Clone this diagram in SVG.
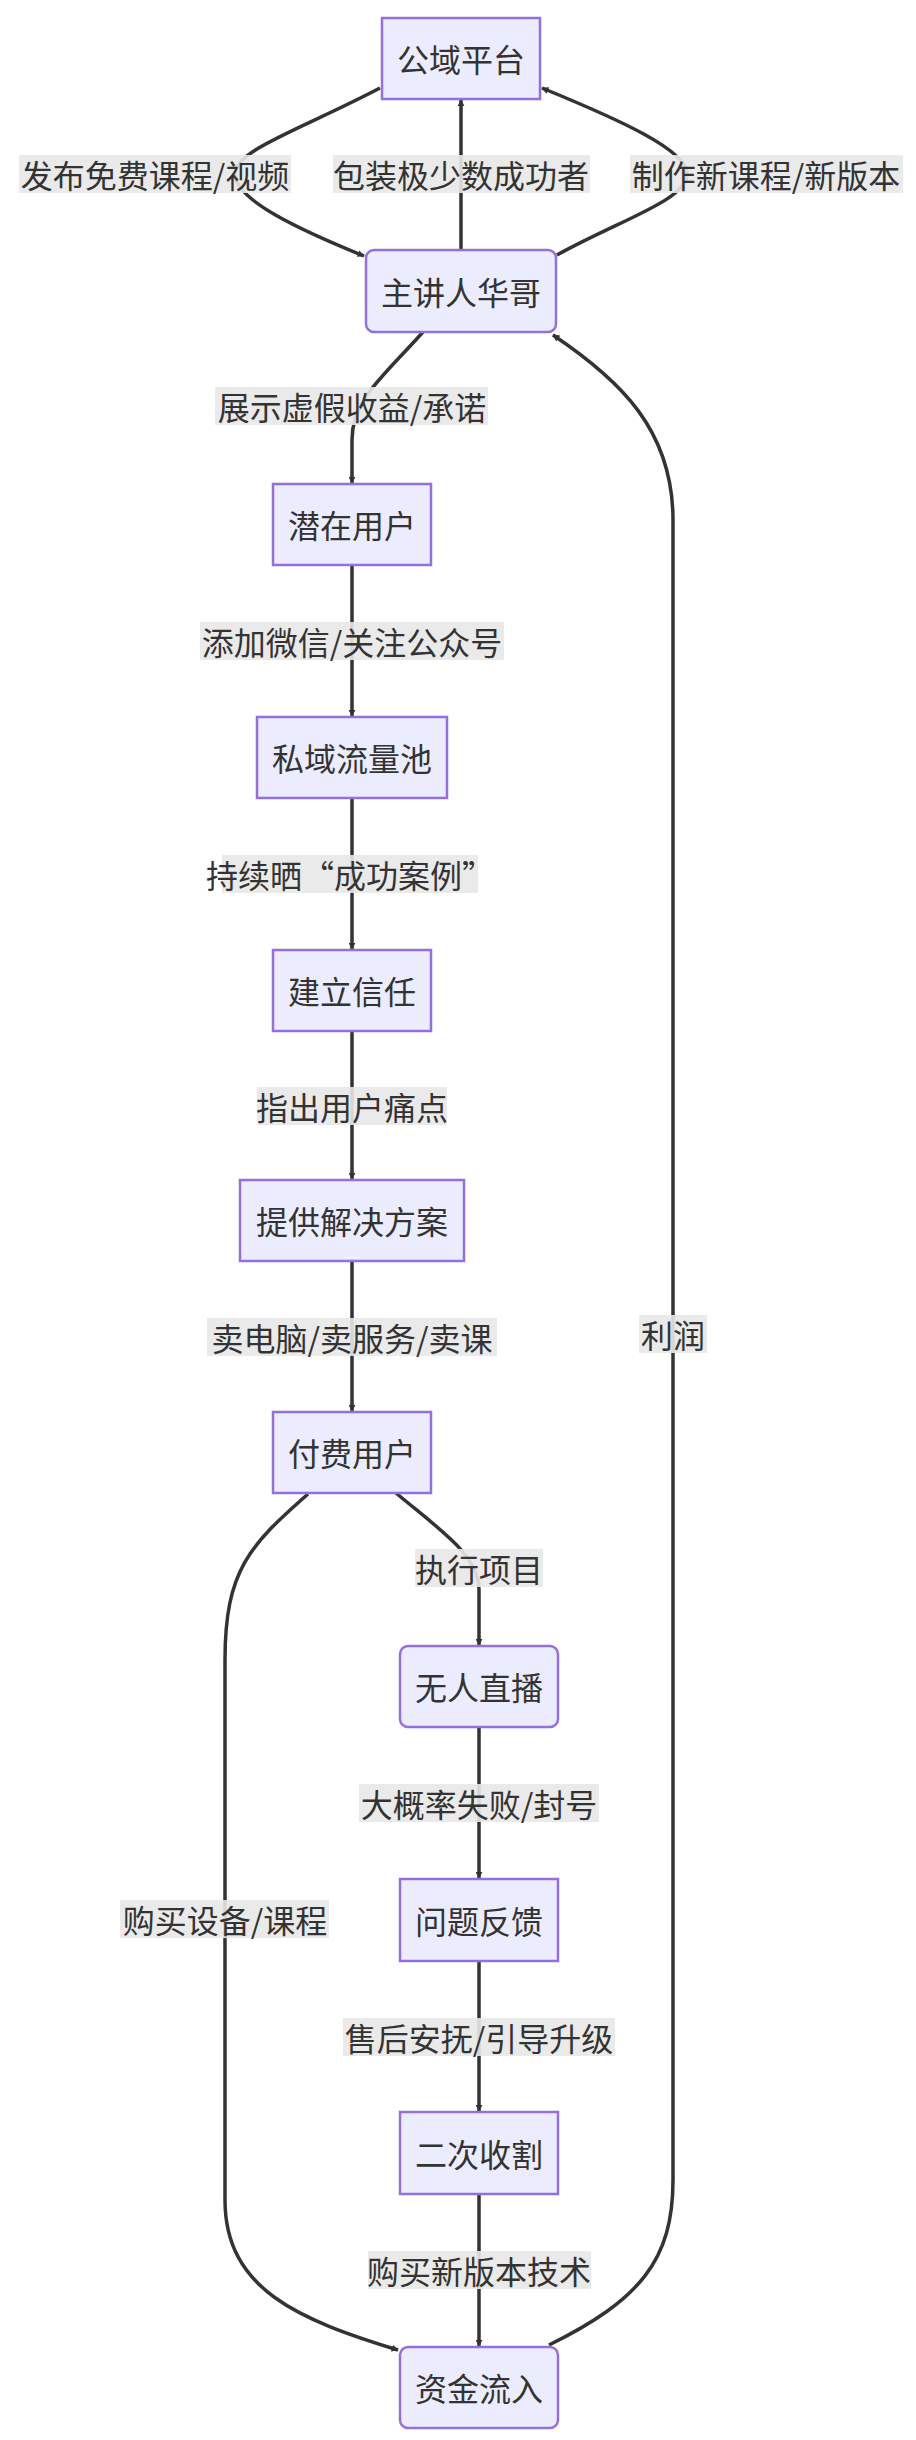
<svg xmlns="http://www.w3.org/2000/svg" width="916" height="2440" viewBox="0 0 916 2440">
<style>
.n rect{fill:#ECECFF;stroke:#9370DB;stroke-width:2.5}
text{font-family:"Noto Sans CJK SC","Noto Sans",sans-serif;font-size:32px;fill:#333;text-anchor:middle;dominant-baseline:central}
.e path{fill:none;stroke:#333;stroke-width:3.5}
.l rect{fill:#e8e8e8;opacity:0.9}
</style>
<defs><marker id="a" viewBox="0 0 10 10" refX="9" refY="5" markerWidth="7" markerHeight="7" markerUnits="userSpaceOnUse" orient="auto"><path d="M0,0 L10,5 L0,10 z" fill="#333"/></marker></defs>
<rect width="916" height="2440" fill="#fff"/>
<g class="e" marker-end="url(#a)">
<path d="M380,88 C300,130 235,150 235,174 C235,200 300,230 364,256" marker-end="url(#a)"/>
<path d="M461,250 L461,100" marker-end="url(#a)"/>
<path d="M557,255 C620,220 687,200 687,174 C687,150 620,120 542,88" marker-end="url(#a)"/>
<path d="M423,332 C380,380 352,400 352,440 L352,483" marker-end="url(#a)"/>
<path d="M352,565 L352,716" marker-end="url(#a)"/>
<path d="M352,798 L352,949" marker-end="url(#a)"/>
<path d="M352,1031 L352,1179" marker-end="url(#a)"/>
<path d="M352,1261 L352,1411" marker-end="url(#a)"/>
<path d="M396,1493 C440,1530 479,1555 479,1590 L479,1645" marker-end="url(#a)"/>
<path d="M479,1727 L479,1878" marker-end="url(#a)"/>
<path d="M479,1961 L479,2111" marker-end="url(#a)"/>
<path d="M479,2194 L479,2346" marker-end="url(#a)"/>
<path d="M308,1494 C250,1545 225,1570 225,1660 L225,2200 C225,2290 300,2320 398,2350" marker-end="url(#a)"/>
<path d="M549,2345 C640,2300 673,2260 673,2180 L673,520 C673,430 620,380 553,335" marker-end="url(#a)"/>
</g>
<g class="l">
<rect x="19" y="155" width="272" height="38"/><text x="155" y="174">发布免费课程/视频</text>
<rect x="333" y="155" width="257" height="38"/><text x="461" y="174">包装极少数成功者</text>
<rect x="630" y="155" width="273" height="38"/><text x="766" y="174">制作新课程/新版本</text>
<rect x="215" y="387" width="273" height="38"/><text x="352" y="406">展示虚假收益/承诺</text>
<rect x="200" y="622" width="304" height="38"/><text x="352" y="641">添加微信/关注公众号</text>
<rect x="222" y="855" width="256" height="38"/><text x="350" y="874">持续晒“成功案例”</text>
<rect x="257" y="1087" width="190" height="38"/><text x="352" y="1106">指出用户痛点</text>
<rect x="207" y="1318" width="290" height="38"/><text x="352" y="1337">卖电脑/卖服务/卖课</text>
<rect x="415" y="1549" width="128" height="38"/><text x="479" y="1568">执行项目</text>
<rect x="359" y="1784" width="240" height="38"/><text x="479" y="1803">大概率失败/封号</text>
<rect x="343" y="2018" width="272" height="38"/><text x="479" y="2037">售后安抚/引导升级</text>
<rect x="368" y="2251" width="223" height="38"/><text x="479" y="2270">购买新版本技术</text>
<rect x="120" y="1900" width="209" height="38"/><text x="225" y="1919">购买设备/课程</text>
<rect x="639" y="1315" width="68" height="38"/><text x="673" y="1334">利润</text>
</g>
<g id="n1" class="n"><rect x="382" y="18" width="158" height="81"/><text x="461" y="58">公域平台</text></g>
<g id="n2" class="n"><rect x="366" y="250" width="190" height="82" rx="8"/><text x="461" y="291">主讲人华哥</text></g>
<g id="n3" class="n"><rect x="273" y="484" width="158" height="81"/><text x="352" y="524">潜在用户</text></g>
<g id="n4" class="n"><rect x="257" y="717" width="190" height="81"/><text x="352" y="757">私域流量池</text></g>
<g id="n5" class="n"><rect x="273" y="950" width="158" height="81"/><text x="352" y="990">建立信任</text></g>
<g id="n6" class="n"><rect x="240" y="1180" width="224" height="81"/><text x="352" y="1220">提供解决方案</text></g>
<g id="n7" class="n"><rect x="273" y="1412" width="158" height="81"/><text x="352" y="1452">付费用户</text></g>
<g id="n8" class="n"><rect x="400" y="1646" width="158" height="81" rx="8"/><text x="479" y="1686">无人直播</text></g>
<g id="n9" class="n"><rect x="400" y="1879" width="158" height="82"/><text x="479" y="1920">问题反馈</text></g>
<g id="n10" class="n"><rect x="400" y="2112" width="158" height="82"/><text x="479" y="2153">二次收割</text></g>
<g id="n11" class="n"><rect x="400" y="2347" width="158" height="81" rx="8"/><text x="479" y="2387">资金流入</text></g>
</svg>
